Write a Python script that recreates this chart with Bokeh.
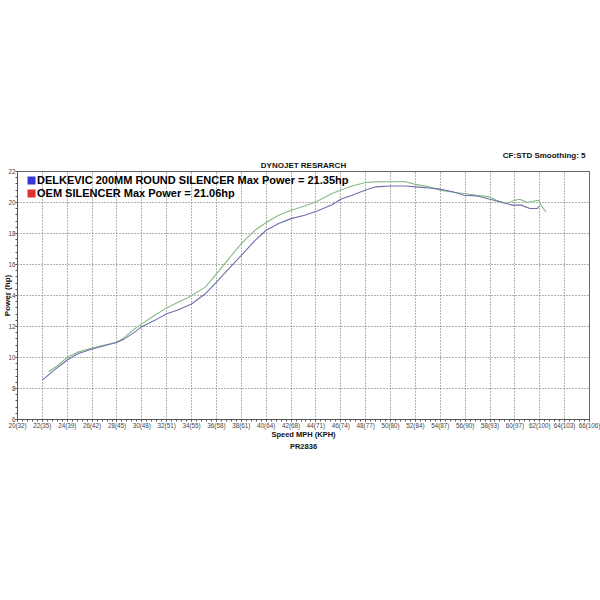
from bokeh.plotting import figure
from bokeh.models import FixedTicker, Legend, LegendItem, Title
from bokeh.embed import file_html
from bokeh.resources import INLINE
import numpy as np

# ---- data ----
delk_mph = [22.5, 23.2, 24.0, 24.8, 26.0, 27.0, 28.0, 28.6, 29.4, 30.0, 31.0, 32.0, 32.9, 33.7,
            34.0, 35.1, 36.0, 37.0, 38.0, 39.1, 40.0, 41.0, 42.0, 43.1, 44.1, 45.3, 46.0, 46.9,
            48.0, 48.8, 50.0, 51.1, 52.0, 53.1, 54.0, 54.9, 55.9, 56.9, 58.0, 58.5, 59.3, 60.0,
            60.4, 61.0, 61.9, 62.1, 62.5]
delk_hp = [9.08, 9.47, 10.01, 10.33, 10.61, 10.81, 10.98, 11.30, 11.84, 12.17, 12.71, 13.20, 13.57, 13.85,
           14.00, 14.54, 15.40, 16.38, 17.35, 18.21, 18.71, 19.18, 19.50, 19.78, 20.08, 20.58, 20.80, 21.07,
           21.29, 21.33, 21.34, 21.35, 21.17, 21.01, 20.80, 20.68, 20.58, 20.47, 20.36, 20.15, 19.94, 20.15,
           20.21, 20.00, 20.15, 19.83, 19.39]

oem_mph = [22.0, 22.9, 24.0, 24.8, 26.0, 27.0, 28.0, 28.6, 29.4, 30.0, 31.0, 32.0, 32.9, 34.0,
           35.1, 36.0, 37.0, 38.0, 39.1, 40.0, 41.0, 42.0, 43.1, 44.1, 45.3, 46.0, 46.9, 48.0,
           48.8, 50.0, 51.2, 52.0, 53.1, 54.0, 55.0, 55.9, 56.9, 58.0, 59.0, 59.8, 60.5, 61.2,
           61.8, 62.0]
oem_hp = [8.54, 9.15, 9.84, 10.23, 10.55, 10.76, 10.98, 11.20, 11.62, 11.99, 12.38, 12.82, 13.07, 13.45,
          14.11, 14.86, 15.73, 16.59, 17.56, 18.21, 18.64, 18.96, 19.18, 19.45, 19.85, 20.21, 20.47, 20.80,
          21.01, 21.06, 21.06, 21.01, 20.94, 20.86, 20.69, 20.47, 20.43, 20.21, 20.00, 19.83, 19.83, 19.61,
          19.61, 19.78]

x_ticks = [20, 22, 24, 26, 28, 30, 32, 34, 36, 38, 40, 42, 44, 46, 48, 50, 52, 54, 56, 58, 60, 62, 64, 66]
x_tick_labels = ["20(32)", "22(35)", "24(39)", "26(42)", "28(45)", "30(48)", "32(51)", "34(55)",
                 "36(58)", "38(61)", "40(64)", "42(68)", "44(71)", "46(74)", "48(77)", "50(80)",
                 "52(84)", "54(87)", "56(90)", "58(93)", "60(97)", "62(100)", "64(103)", "66(106)"]
y_ticks = [6, 8, 10, 12, 14, 16, 18, 20, 22]

legend_labels = ["DELKEVIC 200MM ROUND SILENCER Max Power = 21.35hp",
                 "OEM SILENCER Max Power = 21.06hp"]

# ---- figure ----
p = figure(width=600, height=600, output_backend="svg", toolbar_location=None,
           x_range=(20, 66), y_range=(6, 22),
           min_border_top=171, min_border_bottom=181, min_border_right=11, min_border_left=0)
p.title_location = None
p.background_fill_color = "white"
p.border_fill_color = "white"
p.outline_line_color = "#666666"
p.outline_line_width = 1

x_minor = list(np.arange(20, 66.01, 0.4))
y_minor = list(np.arange(6, 22.01, 0.4))

p.xaxis.ticker = FixedTicker(ticks=x_ticks, minor_ticks=x_minor)
p.yaxis.ticker = FixedTicker(ticks=y_ticks, minor_ticks=y_minor)
p.xaxis.major_label_overrides = {t: lab for t, lab in zip(x_ticks, x_tick_labels)}

for ax in (p.xaxis[0], p.yaxis[0]):
    ax.axis_line_color = "#555555"
    ax.major_tick_line_color = "#555555"
    ax.minor_tick_line_color = "#555555"
    ax.major_tick_out = 2
    ax.major_tick_in = 0
    ax.minor_tick_out = 2
    ax.minor_tick_in = 0
    ax.major_label_text_font = "Liberation Sans"
    ax.major_label_text_font_size = "6.3px"
    ax.major_label_text_color = "#444444"
    ax.major_label_standoff = 0
    ax.axis_label_text_font = "Liberation Sans"
    ax.axis_label_text_font_style = "bold"
    ax.axis_label_text_color = "#111111"

p.xaxis.axis_label = "Speed MPH (KPH)"
p.xaxis.axis_label_text_font_size = "7.5px"
p.xaxis.axis_label_standoff = -2
p.yaxis.axis_label = "Power (hp)"
p.yaxis.axis_label_text_font_size = "8px"
p.yaxis.axis_label_standoff = -7

p.xgrid.ticker = FixedTicker(ticks=x_ticks)
p.ygrid.ticker = FixedTicker(ticks=y_ticks)
for g in (p.xgrid[0], p.ygrid[0]):
    g.grid_line_color = "#666666"
    g.grid_line_dash = "1 2"
    g.grid_line_width = 1

# ---- curves ----
p.line(delk_mph, delk_hp, line_color="#86bb86", line_width=1.1)
p.line(oem_mph, oem_hp, line_color="#6e6eac", line_width=1.1)

# ---- legend (swatch colours as in the reference; proxies have zero area) ----
sw1 = p.quad(left=[oem_mph[0]], right=[oem_mph[0]], bottom=[oem_hp[0]], top=[oem_hp[0]],
             fill_color="#3838d8", line_color=None)
sw2 = p.quad(left=[oem_mph[0]], right=[oem_mph[0]], bottom=[oem_hp[0]], top=[oem_hp[0]],
             fill_color="#e03030", line_color=None)
legend = Legend(items=[LegendItem(label=legend_labels[0], renderers=[sw1]),
                       LegendItem(label=legend_labels[1], renderers=[sw2])],
                location=(9, 220), margin=0, padding=0, spacing=0,
                glyph_width=10, glyph_height=10, label_standoff=1, label_height=13,
                label_text_font="Liberation Sans", label_text_font_style="bold",
                label_text_font_size="11px", label_text_color="black",
                border_line_color=None, background_fill_alpha=0)
p.add_layout(legend)

# ---- header / footer texts ----
p.add_layout(Title(text="DYNOJET RESRARCH", align="center", text_font="Liberation Sans",
                   text_font_style="bold", text_font_size="8px", text_color="#111111",
                   standoff=4), "above")
p.add_layout(Title(text="CF:STD Smoothing: 5", align="right", text_font="Liberation Sans",
                   text_font_style="bold", text_font_size="8px", text_color="#111111",
                   standoff=-7, offset=4), "above")
p.add_layout(Title(text="PR2836", align="center", text_font="Liberation Sans",
                   text_font_style="bold", text_font_size="7.5px", text_color="#111111",
                   standoff=-4), "below")

open("out.html", "w").write(file_html(p, INLINE))
